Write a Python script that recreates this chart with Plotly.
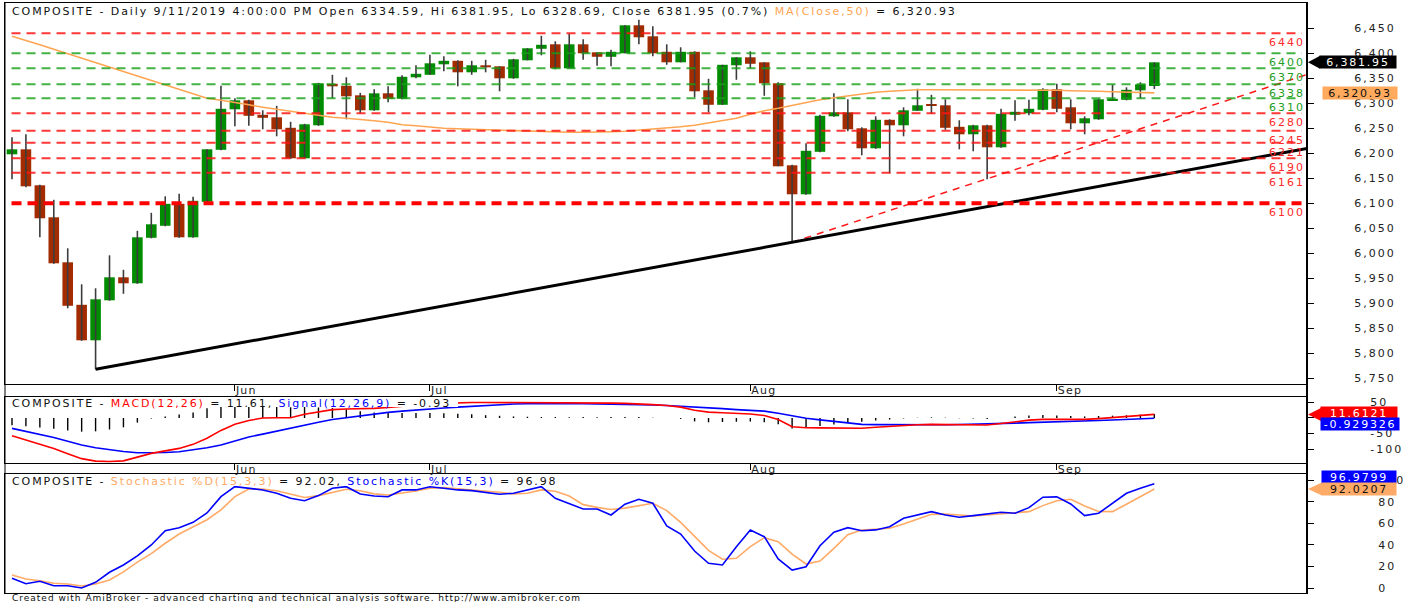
import plotly.graph_objects as go

# ---------------- data ----------------
DATES = [
    "2019-05-09", "2019-05-10", "2019-05-13", "2019-05-14", "2019-05-15", "2019-05-16", "2019-05-17",
    "2019-05-20", "2019-05-21", "2019-05-22", "2019-05-23", "2019-05-24", "2019-05-27", "2019-05-28",
    "2019-05-29", "2019-05-31",
    "2019-06-11", "2019-06-12", "2019-06-13", "2019-06-14", "2019-06-17", "2019-06-18", "2019-06-19",
    "2019-06-20", "2019-06-21", "2019-06-24", "2019-06-25", "2019-06-26", "2019-06-27", "2019-06-28",
    "2019-07-01", "2019-07-02", "2019-07-03", "2019-07-04", "2019-07-05", "2019-07-08", "2019-07-09",
    "2019-07-10", "2019-07-11", "2019-07-12", "2019-07-15", "2019-07-16", "2019-07-17", "2019-07-18",
    "2019-07-19", "2019-07-22", "2019-07-23", "2019-07-24", "2019-07-25", "2019-07-26", "2019-07-29",
    "2019-07-30", "2019-07-31",
    "2019-08-01", "2019-08-02", "2019-08-05", "2019-08-06", "2019-08-07", "2019-08-08", "2019-08-09",
    "2019-08-12", "2019-08-13", "2019-08-14", "2019-08-15", "2019-08-16", "2019-08-19", "2019-08-20",
    "2019-08-21", "2019-08-22", "2019-08-23", "2019-08-26", "2019-08-27", "2019-08-28", "2019-08-29",
    "2019-08-30",
    "2019-09-02", "2019-09-03", "2019-09-04", "2019-09-05", "2019-09-06", "2019-09-09", "2019-09-10",
    "2019-09-11",
]

OPEN = [6198, 6208, 6136, 6072, 5982, 5897, 5826, 5906, 5952, 5940,
        6031, 6055, 6099, 6032, 6103, 6207, 6288, 6306, 6277, 6272,
        6251, 6190, 6256, 6339, 6335, 6316, 6286, 6320, 6309, 6352,
        6357, 6378, 6385, 6362, 6376, 6374, 6350, 6386, 6409, 6418,
        6370, 6418, 6402, 6393, 6400, 6456, 6434, 6403, 6382, 6403,
        6326, 6297, 6376, 6392, 6382, 6340, 6176, 6118, 6203, 6274,
        6282, 6250, 6210, 6267, 6256, 6285, 6297, 6296, 6253, 6238,
        6256, 6212, 6277, 6280, 6287, 6328, 6292, 6260, 6268, 6306,
        6307, 6326, 6334.59]
HIGH = [6232, 6238, 6137, 6107, 6010, 5938, 5930, 5996, 5967, 6045,
        6081, 6114, 6119, 6113, 6208, 6335, 6310, 6307, 6286, 6295,
        6263, 6259, 6341, 6357, 6352, 6321, 6328, 6334, 6356, 6376,
        6397, 6394, 6386, 6385, 6387, 6374, 6389, 6410, 6435, 6424,
        6439, 6428, 6402, 6407, 6456, 6467, 6454, 6418, 6412, 6404,
        6349, 6377, 6392, 6404, 6382, 6342, 6177, 6220, 6277, 6320,
        6308, 6252, 6274, 6268, 6292, 6329, 6317, 6308, 6266, 6257,
        6257, 6289, 6306, 6307, 6330, 6339, 6308, 6274, 6309, 6337,
        6332, 6342, 6381.95]
LOW = [6148, 6132, 6032, 5979, 5890, 5825, 5768, 5905, 5919, 5939,
       6030, 6054, 6031, 6031, 6102, 6206, 6254, 6255, 6248, 6234,
       6189, 6189, 6255, 6310, 6268, 6280, 6285, 6302, 6308, 6350,
       6357, 6364, 6334, 6357, 6362, 6324, 6349, 6386, 6396, 6368,
       6370, 6387, 6375, 6374, 6400, 6418, 6394, 6377, 6382, 6312,
       6282, 6297, 6347, 6370, 6315, 6174, 6022, 6117, 6202, 6273,
       6244, 6196, 6209, 6160, 6234, 6285, 6279, 6247, 6208, 6204,
       6148, 6211, 6265, 6276, 6286, 6282, 6248, 6238, 6267, 6306,
       6306, 6310, 6328.69]
CLOSE = [6208, 6134, 6070, 5980, 5895, 5826, 5908, 5952, 5940, 6032,
         6058, 6099, 6032, 6105, 6208, 6289, 6306, 6275, 6271, 6248,
         6190, 6258, 6340, 6334, 6314, 6286, 6320, 6309, 6353, 6359,
         6380, 6385, 6362, 6376, 6372, 6350, 6388, 6410, 6417, 6370,
         6418, 6400, 6393, 6403, 6456, 6432, 6400, 6382, 6403, 6324,
         6297, 6377, 6392, 6379, 6340, 6174, 6118, 6205, 6275, 6282,
         6248, 6210, 6267, 6256, 6286, 6296, 6295, 6251, 6238, 6256,
         6212, 6279, 6283, 6289, 6328, 6289, 6260, 6270, 6308, 6309,
         6327, 6338, 6381.95]
MA50 = [6434, 6426, 6417, 6408, 6399, 6390, 6381, 6372, 6363, 6354, 6345, 6336, 6327, 6318, 6310,
        6306, 6302, 6297, 6292, 6288, 6283, 6279, 6276, 6272, 6270, 6268, 6265, 6262, 6257, 6255,
        6252, 6250, 6249, 6248, 6247, 6247, 6246, 6245, 6243, 6242, 6242, 6242, 6242, 6243, 6244,
        6246, 6248, 6250, 6253, 6256, 6261, 6266, 6270, 6278, 6285, 6290, 6296, 6302, 6307, 6311,
        6315, 6319, 6322, 6324, 6326, 6327, 6327, 6327, 6326, 6326, 6327, 6327, 6327, 6326, 6326,
        6326, 6325, 6325, 6324, 6323, 6322, 6321.5, 6320.93]
MACD = [-57, -70, -83, -98, -115, -131, -139, -140, -138, -127,
        -114, -106, -98, -85, -65, -40, -20, -8, 0, 1,
        1, 12, 20, 27, 29, 29, 31, 34, 38, 42,
        45, 47, 49, 50, 50, 50, 50, 50, 50, 50,
        49, 49, 48, 48, 47, 46, 43, 40, 35, 25,
        19, 17, 15, 13, 8, -5, -28, -31.5, -32, -32,
        -32.5, -33, -30, -27, -24, -22, -20.6, -21, -21.5, -22,
        -22.5, -18, -12, -7, -4.5, -4.5, -4.5, -4.5, -2, 1,
        4, 8, 11.6121]
SIGNAL = [-33.5, -43, -52, -63, -75, -87, -96, -103, -108, -112,
          -112, -111, -109, -103, -96, -87, -75, -61, -52, -42,
          -33.5, -24, -14, -5, 1, 7, 13, 18, 22, 26,
          29, 32, 35, 38, 41, 43, 45, 46, 47, 47,
          47, 46, 45.5, 45, 44, 43, 42, 40, 38, 36,
          33, 30, 27, 24.5, 22, 15, 6, -1, -6, -11,
          -16, -20.6, -21.5, -22, -22.5, -22.8, -22.5, -22, -21, -20.3,
          -19.6, -18, -16.5, -15, -14, -12.5, -11, -9.5, -8.3, -6.5,
          -4.8, -3, -0.929326]
STOCH_K = [9, 4, 6.2, 2.1, 2.1, 0, 5.3, 14.6, 21.4, 29.8,
           40, 53.3, 56.1, 61.1, 69.8, 84.9, 94.2, 93, 91.2, 88.1,
           83.4, 81.2, 85.9, 92.7, 94.2, 87.4, 85.6, 84.9, 91.2, 91.2,
           94.2, 92.7, 91.2, 90.5, 89, 87.2, 88.1, 91.2, 94.2, 83.4,
           78.8, 73.5, 73.5, 67.9, 77.9, 82.5, 78.8, 57.7, 50.2, 34.4,
           23, 21.4, 38.4, 54, 47.7, 27, 16.7, 19.8, 39.3, 51.8,
           56.1, 53.3, 54, 57, 64.8, 67.9, 71, 67.9, 65.8, 67.3,
           68.6, 70.4, 69.5, 74.7, 84.4, 84.7, 78.1, 67.3, 69.5, 78.8,
           88.1, 92.7, 96.9799]
STOCH_D = [12.1, 8.4, 6.8, 4.4, 3.7, 1.9, 3.7, 7.4, 15, 24,
           32, 41.6, 50.2, 56.5, 63.5, 72.6, 85, 92, 92, 90.5,
           87.4, 84.2, 85.9, 89, 91.8, 90.5, 87.5, 86.5, 88.1, 90.2,
           92.7, 93.3, 92.2, 91.2, 90.5, 89, 87.4, 88.1, 91.2, 90,
           85.5, 77.5, 75, 73, 74.3, 76.3, 78.8, 72, 61, 48,
           35, 26.7, 27.6, 38.4, 46.8, 43, 31.5, 22.3, 25.1, 36.9,
           49.5, 54, 54.9, 55.5, 59.5, 64, 68.5, 68.8, 67.9, 67,
           67.9, 68.8, 69.5, 71, 76.6, 81.2, 82.5, 76.3, 71.2, 71,
           77.9, 84.9, 92.0207]

RED_LEVELS = [6440, 6280, 6245, 6221, 6190, 6161]
GREEN_LEVELS = [6400, 6370, 6338, 6310]
STRONG_LEVEL = 6100
TREND_BLACK_X = [6, 93]
TREND_BLACK_Y = [5768, 6210]
TREND_RED_X = [56, 93]
TREND_RED_Y = [6022, 6358]
PRICE_TICKS = [5750, 5800, 5850, 5900, 5950, 6000, 6050, 6100, 6150, 6200, 6250, 6300, 6350, 6400, 6450]
MACD_TICKS = [50, 0, -50, -100]
STOCH_TICKS = [0, 20, 40, 60, 80, 100]
MONTHS = {"05": "May", "06": "Jun", "07": "Jul", "08": "Aug", "09": "Sep"}

# ---------------- styling / geometry ----------------
FONT = "DejaVu Sans"
UP, DOWN, WICK = "#008c00", "#a32b00", "#3c3c3c"
MA_COL = "#ffa552"
ORANGE = "#ffaa66"
LVL_RED, LVL_GREEN = "rgba(255,20,20,0.85)", "rgba(20,160,20,0.8)"
TXT_RED, TXT_GREEN = "#ff2a2a", "#1e9e1e"

PL, PR, PT, PB = 5, 1307, 3, 593
MAIN_PX, MACD_PX, STO_PX = (3, 384), (397, 463), (474, 593)
MAIN_RANGE = [5738.6, 6500.6]
MACD_RANGE = [-145.0, 67.6]
STO_RANGE = [-4.65, 106.0]
X_RANGE = [-0.502, 92.96]
LS = 1.9


def dom(px):
    top, bot = px
    return [(PB - bot) / (PB - PT), (PB - top) / (PB - PT)]


def pxx(p):
    return (p - PL) / (PR - PL)


def pxy(p):
    return (PB - p) / (PB - PT)


def sp(text, spacing, color=None):
    style = f"letter-spacing:{spacing}px"
    if color:
        style = f"color:{color};{style}"
    return f'<span style="{style}">{text}</span>'


N = len(CLOSE)
IDX = list(range(N))
month_idx = [i for i in range(1, N) if DATES[i][5:7] != DATES[i - 1][5:7]]
month_txt = [sp(MONTHS[DATES[i][5:7]], 1.2) for i in month_idx]

fig = go.Figure()

# ---- price pane ----
wx, wy = [], []
for i in IDX:
    wx += [i, i, None]
    wy += [LOW[i], HIGH[i], None]
fig.add_trace(go.Scatter(x=wx, y=wy, mode="lines", line=dict(color=WICK, width=1.6),
                         hoverinfo="skip", showlegend=False))
fig.add_trace(go.Bar(x=IDX, y=[max(abs(c - o), 1.2) for o, c in zip(OPEN, CLOSE)],
                     base=[min(o, c) for o, c in zip(OPEN, CLOSE)], width=0.76,
                     marker=dict(color=[UP if c >= o else DOWN for o, c in zip(OPEN, CLOSE)],
                                 line=dict(width=0)),
                     showlegend=False))
fig.add_trace(go.Scatter(x=IDX, y=MA50, mode="lines", line=dict(color=MA_COL, width=1.6), showlegend=False))
fig.add_trace(go.Scatter(x=TREND_RED_X, y=TREND_RED_Y, mode="lines",
                         line=dict(color="#ff1a1a", width=1.5, dash="7px,6px"), showlegend=False))
fig.add_trace(go.Scatter(x=TREND_BLACK_X, y=TREND_BLACK_Y, mode="lines",
                         line=dict(color="black", width=3), showlegend=False))

# ---- MACD pane ----
hx, hy = [], []
for i in IDX:
    hx += [i, i, None]
    hy += [0, MACD[i] - SIGNAL[i], None]
fig.add_trace(go.Scatter(x=hx, y=hy, xaxis="x2", yaxis="y2", mode="lines",
                         line=dict(color="black", width=1.4), showlegend=False))
fig.add_trace(go.Scatter(x=IDX, y=SIGNAL, xaxis="x2", yaxis="y2", mode="lines",
                         line=dict(color="#0000ff", width=1.6), showlegend=False))
fig.add_trace(go.Scatter(x=IDX, y=MACD, xaxis="x2", yaxis="y2", mode="lines",
                         line=dict(color="#ff0000", width=1.6), showlegend=False))

# ---- Stochastic pane ----
fig.add_trace(go.Scatter(x=IDX, y=STOCH_D, xaxis="x3", yaxis="y3", mode="lines",
                         line=dict(color=ORANGE, width=1.6), showlegend=False))
fig.add_trace(go.Scatter(x=IDX, y=STOCH_K, xaxis="x3", yaxis="y3", mode="lines",
                         line=dict(color="#0000ff", width=1.6), showlegend=False))

tickfont = dict(family=FONT, size=11, color="#222222")
xcommon = dict(range=X_RANGE, showgrid=False, zeroline=False, showline=True, mirror=True,
               linecolor="black", linewidth=1, tickvals=month_idx, ticktext=month_txt,
               ticks="outside", ticklen=6, tickcolor="black", tickwidth=1,
               ticklabelposition="outside right", ticklabelstandoff=-4, tickfont=tickfont)
ycommon = dict(side="right", showgrid=False, zeroline=False, showline=True, mirror=True,
               linecolor="black", linewidth=1, ticks="outside", ticklen=6, tickcolor="black",
               tickfont=tickfont)

fig.update_layout(
    width=1411, height=602,
    margin=dict(l=PL, r=1411 - PR, t=PT, b=602 - PB),
    paper_bgcolor="white", plot_bgcolor="white",
    showlegend=False, hovermode=False,
    font=dict(family=FONT, color="#222222"),
    xaxis=dict(domain=[0, 1], anchor="y", **xcommon),
    xaxis2=dict(domain=[0, 1], anchor="y2", matches="x", **xcommon),
    xaxis3=dict(domain=[0, 1], anchor="y3", matches="x", range=X_RANGE, showgrid=False, zeroline=False,
                showline=True, mirror=True, linecolor="black", linewidth=1, showticklabels=False),
    yaxis=dict(domain=dom(MAIN_PX), anchor="x", range=MAIN_RANGE, tickvals=PRICE_TICKS,
               ticktext=[sp(f"{v:,}", 2) for v in PRICE_TICKS], ticklabelstandoff=38, **ycommon),
    yaxis2=dict(domain=dom(MACD_PX), anchor="x2", range=MACD_RANGE, tickvals=MACD_TICKS,
                ticktext=[sp(str(v), 2) for v in MACD_TICKS], ticklabelstandoff=54, **ycommon),
    yaxis3=dict(domain=dom(STO_PX), anchor="x3", range=STO_RANGE, tickvals=STOCH_TICKS,
                ticktext=[sp(str(v), 2) for v in STOCH_TICKS], ticklabelstandoff=62, **ycommon),
)

shapes = []
annotations = []

# horizontal support / resistance levels
for lv in RED_LEVELS:
    shapes.append(dict(type="line", xref="x domain", yref="y", x0=0.005, x1=0.996, y0=lv, y1=lv,
                       line=dict(color=LVL_RED, width=2, dash="9px,6px"), layer="above"))
for lv in GREEN_LEVELS:
    shapes.append(dict(type="line", xref="x domain", yref="y", x0=0.005, x1=0.996, y0=lv, y1=lv,
                       line=dict(color=LVL_GREEN, width=2, dash="9px,6px"), layer="above"))
shapes.append(dict(type="line", xref="x domain", yref="y", x0=0.005, x1=0.996, y0=STRONG_LEVEL,
                   y1=STRONG_LEVEL, line=dict(color="#ff0000", width=4, dash="10px,6px"), layer="above"))
for lv, col in [(v, TXT_RED) for v in RED_LEVELS] + [(v, TXT_GREEN) for v in GREEN_LEVELS] + [(STRONG_LEVEL, TXT_RED)]:
    annotations.append(dict(xref="paper", yref="y", x=1.0, y=lv, xanchor="right", yanchor="top",
                            yshift=-1, text=sp(str(lv), 2), showarrow=False,
                            font=dict(family=FONT, size=11, color=col)))

# white masks behind pane titles
shapes.append(dict(type="rect", xref="paper", yref="paper", x0=pxx(8), x1=pxx(458),
                   y0=pxy(407), y1=pxy(398), fillcolor="white", line=dict(width=0), layer="above"))
shapes.append(dict(type="rect", xref="paper", yref="paper", x0=pxx(8), x1=pxx(568),
                   y0=pxy(486), y1=pxy(475), fillcolor="white", line=dict(width=0), layer="above"))

# outer frame (left thin, right thick axis line)
shapes.append(dict(type="line", xref="paper", yref="paper", x0=0, x1=0, y0=0, y1=1,
                   line=dict(color="black", width=1), layer="above"))
shapes.append(dict(type="line", xref="paper", yref="paper", x0=1, x1=1, y0=0, y1=1,
                   line=dict(color="black", width=2), layer="above"))

# pane titles
last_m, last_d = int(DATES[-1][5:7]), int(DATES[-1][8:10])
date_txt = f"{last_m}/{last_d}/{DATES[-1][:4]}"
pct = (CLOSE[-1] / CLOSE[-2] - 1) * 100
main_title = (sp(f"COMPOSITE - Daily {date_txt} 4:00:00 PM Open {OPEN[-1]:.2f}, Hi {HIGH[-1]:.2f}, "
                 f"Lo {LOW[-1]:.2f}, Close {CLOSE[-1]:.2f} ({pct:.1f}%) ", LS)
              + sp("MA(Close,50)", LS, MA_COL) + sp(f" = {MA50[-1]:,.2f}", LS))
macd_title = (sp("COMPOSITE - ", LS) + sp("MACD(12,26)", LS, "#ff0000") + sp(f" = {MACD[-1]:.2f}, ", LS)
              + sp("Signal(12,26,9)", LS, "#0000ff") + sp(f" = {SIGNAL[-1]:.2f}", LS))
sto_title = (sp("COMPOSITE - ", LS) + sp("Stochastic %D(15,3,3)", LS, ORANGE) + sp(f" = {STOCH_D[-1]:.2f}, ", LS)
             + sp("Stochastic %K(15,3)", LS, "#0000ff") + sp(f" = {STOCH_K[-1]:.2f}", LS))
for txt, ypx in [(main_title, 12), (macd_title, 403), (sto_title, 481)]:
    annotations.append(dict(xref="paper", yref="paper", x=pxx(10), y=pxy(ypx), xanchor="left",
                            yanchor="middle", text=txt, showarrow=False,
                            font=dict(family=FONT, size=11, color="#111111")))
annotations.append(dict(xref="paper", yref="paper", x=pxx(10), y=pxy(598), xanchor="left", yanchor="middle",
                        text=sp("Created with AmiBroker - advanced charting and technical analysis software. "
                                "http://www.amibroker.com", 1.0),
                        showarrow=False, font=dict(family=FONT, size=9, color="#111111")))


# value tags on the right axis
def upp(rng, px):
    return (rng[1] - rng[0]) / (px[1] - px[0])


def tag(yref, value, text, bg, fg, x0, w, yshift=0, arrow=False, unit=1.0):
    annotations.append(dict(xref="paper", yref=yref, x=pxx(x0), y=value, xanchor="left", yanchor="middle",
                            yshift=yshift, text=sp(text, 1.8), showarrow=False, bgcolor=bg,
                            width=w, height=12, borderpad=0, align="center",
                            font=dict(family=FONT, size=11, color=fg)))
    if arrow:
        shapes.append(dict(type="path", xref="paper", yref=yref,
                           path=f"M {pxx(1308)},{value} L {pxx(x0 + 1)},{value + 6.5 * unit} "
                                f"L {pxx(x0 + 1)},{value - 6.5 * unit} Z",
                           fillcolor=bg, line=dict(width=0), layer="above"))


u_main = upp(MAIN_RANGE, MAIN_PX)
u_macd = upp(MACD_RANGE, MACD_PX)
u_sto = upp(STO_RANGE, STO_PX)
tag("y", CLOSE[-1], f"{CLOSE[-1]:,.2f}", "#000000", "white", 1319, 76, arrow=True, unit=u_main)
tag("y", MA50[-1], f"{MA50[-1]:,.2f}", "#ffaa5c", "#111111", 1322, 74)
tag("y2", MACD[-1], f"{MACD[-1]:.6g}", "#ff0000", "white", 1320, 76, yshift=1, arrow=True, unit=u_macd)
tag("y2", SIGNAL[-1], f"{SIGNAL[-1]:.6g}", "#0000ff", "white", 1320, 78, yshift=-6)
tag("y3", STOCH_K[-1], f"{STOCH_K[-1]:.6g}", "#0000ff", "white", 1321, 74, yshift=7)
tag("y3", STOCH_D[-1], f"{STOCH_D[-1]:.6g}", ORANGE, "#111111", 1321, 74, arrow=True, unit=u_sto)

fig.update_layout(shapes=shapes, annotations=annotations)
fig.write_html("out.html", config={"displayModeBar": False},
               post_script="document.body.style.margin='0px';")
